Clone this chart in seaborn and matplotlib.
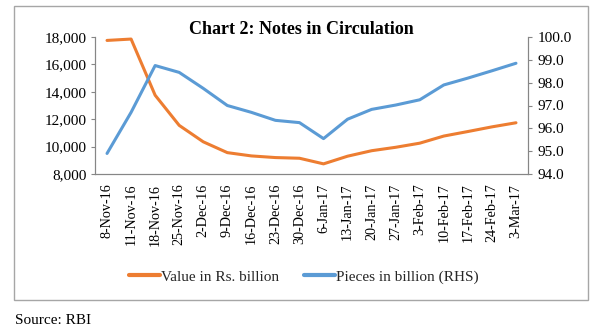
import numpy as np
import pandas as pd
import matplotlib
matplotlib.use("Agg")
import matplotlib.pyplot as plt
from matplotlib.lines import Line2D
from matplotlib.patches import Rectangle
from matplotlib.ticker import FuncFormatter, FixedLocator
import seaborn as sns

dates = ["8-Nov-16", "11-Nov-16", "18-Nov-16", "25-Nov-16", "2-Dec-16", "9-Dec-16",
         "16-Dec-16", "23-Dec-16", "30-Dec-16", "6-Jan-17", "13-Jan-17", "20-Jan-17",
         "27-Jan-17", "3-Feb-17", "10-Feb-17", "17-Feb-17", "24-Feb-17", "3-Mar-17"]
value_bn = [17750, 17850, 13750, 11550, 10350, 9560, 9320, 9200, 9150, 8740,
            9300, 9700, 9950, 10250, 10770, 11100, 11440, 11740]
pieces_bn = [94.9, 96.7, 98.75, 98.45, 97.75, 97.0, 96.7, 96.35, 96.25, 95.55,
             96.4, 96.83, 97.02, 97.25, 97.9, 98.2, 98.52, 98.85]
left_ticks = [8000, 10000, 12000, 14000, 16000, 18000]
right_ticks = [94.0, 95.0, 96.0, 97.0, 98.0, 99.0, 100.0]
series_names = ["Value in Rs. billion", "Pieces in billion (RHS)"]

sns.set_theme(style="white")
plt.rcParams["font.family"] = ["Liberation Serif", "DejaVu Serif"]

ORANGE = "#ED7D31"
BLUE = "#5B9BD5"
AXC = "#868686"

df = pd.DataFrame({"pos": np.arange(len(dates)), "date": dates,
                   "value": value_bn, "pieces": pieces_bn})

W, H = 600, 333
fig = plt.figure(figsize=(6, 3.33), dpi=100)
fig.patch.set_facecolor("white")

ax = fig.add_axes([95 / W, 159 / H, 433 / W, 137 / H])
ax2 = ax.twinx()

sns.lineplot(data=df, x="pos", y="value", ax=ax, color=ORANGE, linewidth=2.2,
             sort=False, legend=False)
sns.lineplot(data=df, x="pos", y="pieces", ax=ax2, color=BLUE, linewidth=2.2,
             sort=False, legend=False)
for a in (ax, ax2):
    for ln in a.lines:
        ln.set_solid_joinstyle("round")
        ln.set_solid_capstyle("round")

ax.set_xlim(-0.5, len(dates) - 0.5)
ax.set_ylim(left_ticks[0], left_ticks[-1])
ax2.set_ylim(right_ticks[0], right_ticks[-1])
ax.set_xlabel("")
ax.set_ylabel("")
ax2.set_ylabel("")

ax.set_yticks(left_ticks)
ax.yaxis.set_major_formatter(FuncFormatter(lambda v, p: f"{int(v):,}"))
ax2.set_yticks(right_ticks)
ax2.yaxis.set_major_formatter(FuncFormatter(lambda v, p: f"{v:.1f}"))

ax.set_xticks(np.arange(len(dates)))
ax.set_xticklabels(dates, rotation=90, va="top", ha="center")
ax.xaxis.set_minor_locator(FixedLocator(np.arange(-0.5, len(dates), 1.0)))
ax.tick_params(axis="x", which="major", length=0, pad=7, labelsize=10.2, colors="black")
ax.tick_params(axis="x", which="minor", length=4.5, width=0.8, color=AXC, direction="out")
ax.tick_params(axis="y", length=3, width=0.8, color=AXC, direction="out", labelsize=11,
               pad=3, labelcolor="black", left=True)
ax2.tick_params(axis="y", length=3, width=0.8, color=AXC, direction="out", labelsize=11,
                pad=4, labelcolor="black", right=True)

for a in (ax, ax2):
    a.spines["top"].set_visible(False)
    for s in ("left", "right", "bottom"):
        a.spines[s].set_color(AXC)
        a.spines[s].set_linewidth(0.8)
    a.grid(False)
    a.set_facecolor("none")

# outer chart border
fig.patches.append(Rectangle((14 / W, (H - 300) / H), (588 - 14) / W, (300 - 6) / H,
                             transform=fig.transFigure, fill=False,
                             edgecolor="#A6A6A6", linewidth=1.0))

fig.text(301 / W, 1 - 30 / H, "Chart 2: Notes in Circulation", ha="center", va="center",
         fontsize=13, fontweight="bold", color="black")

handles = [Line2D([0], [0], color=ORANGE, lw=3),
           Line2D([0], [0], color=BLUE, lw=3)]
fig.legend(handles, series_names, loc="center", bbox_to_anchor=(304 / W, 1 - 277 / H),
           ncol=2, frameon=False, fontsize=11, handlelength=2.0, handletextpad=0.1,
           columnspacing=1.6)

fig.text(15 / W, 1 - 320 / H, "Source: RBI", ha="left", va="center", fontsize=11,
         color="black")

fig.savefig("out.png", dpi=100, facecolor="white")
